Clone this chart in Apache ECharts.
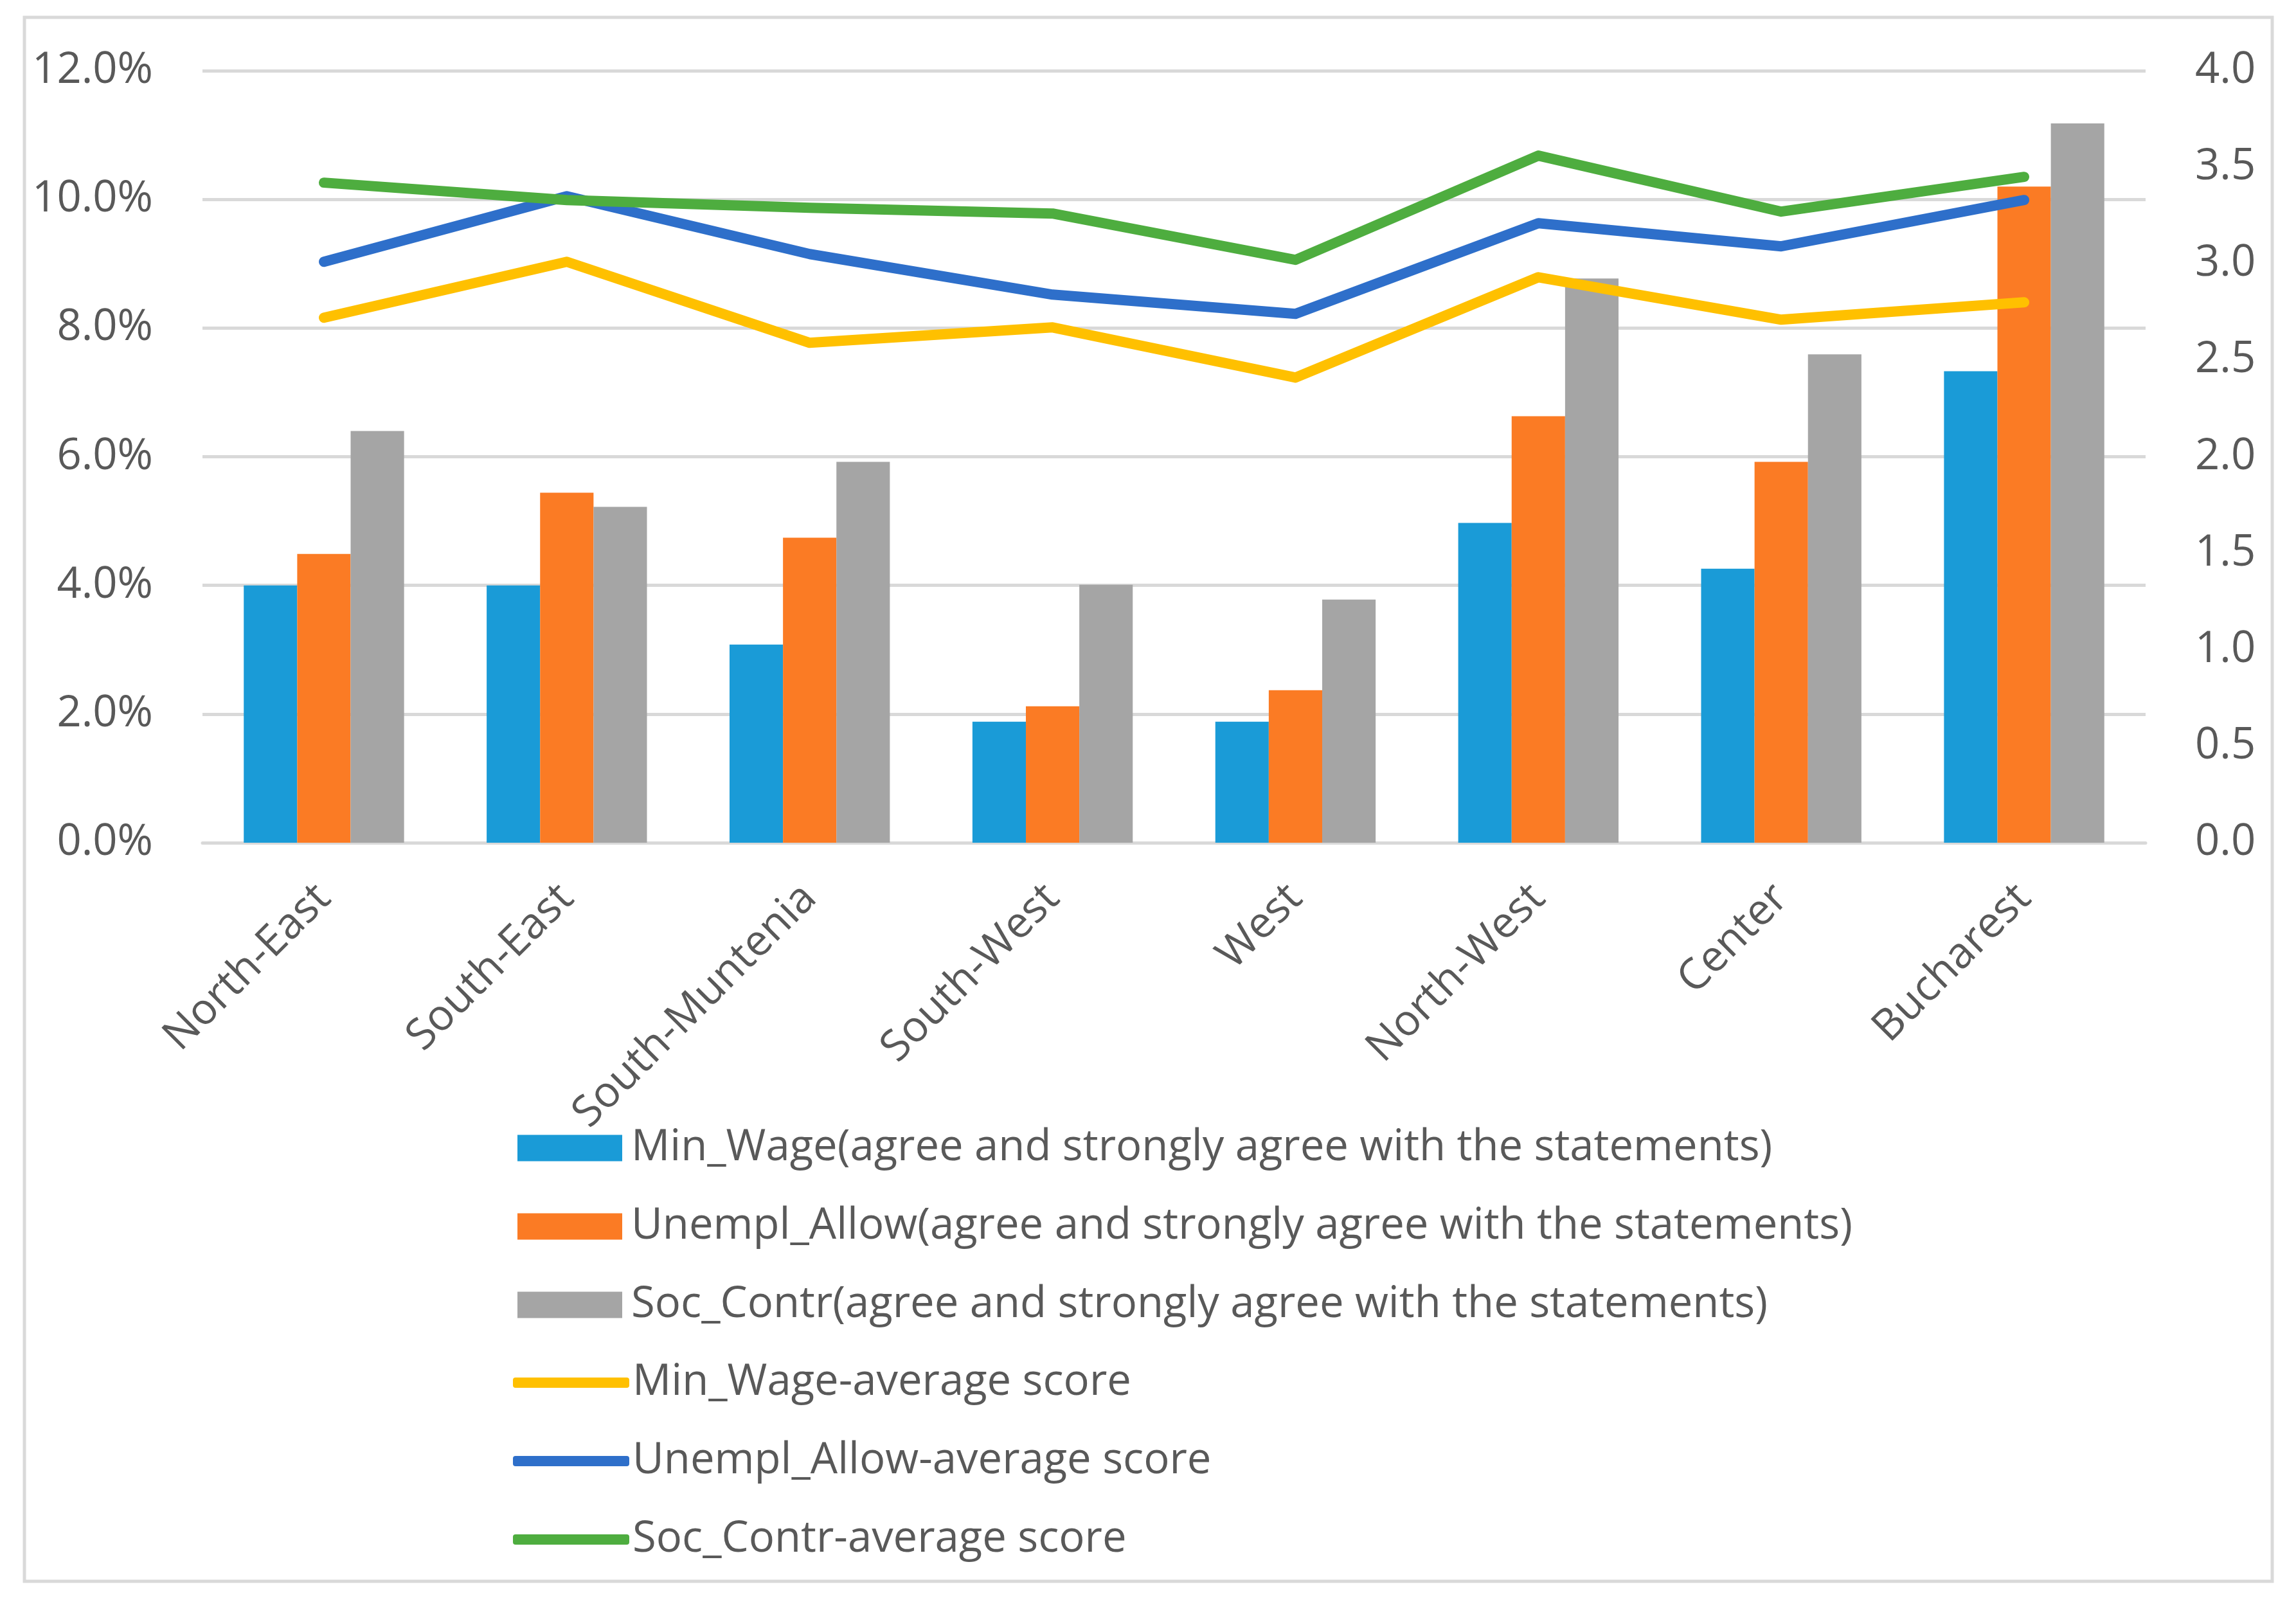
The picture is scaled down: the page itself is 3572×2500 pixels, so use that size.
<!DOCTYPE html>
<html>
<head>
<meta charset="utf-8">
<script src="https://cdn.jsdelivr.net/npm/echarts@6/dist/echarts.min.js"></script>
<style>html,body{margin:0;padding:0;background:#fff;}#c{width:3572px;height:2500px;}</style>
</head>
<body>
<div id="c"></div>
<script>
const categories = ['North-East','South-East','South-Muntenia','South-West','West','North-West','Center','Bucharest'];
const minWagePct = [4.0, 4.0, 3.08, 1.88, 1.88, 4.97, 4.26, 7.33];
const unemplAllowPct = [4.49, 5.44, 4.74, 2.12, 2.37, 6.63, 5.92, 10.2];
const socContrPct = [6.40, 5.22, 5.92, 4.01, 3.78, 8.77, 7.59, 11.18];
const minWageScore = [2.72, 3.01, 2.59, 2.67, 2.41, 2.93, 2.71, 2.80];
const unemplAllowScore = [3.01, 3.35, 3.05, 2.84, 2.74, 3.21, 3.09, 3.33];
const socContrScore = [3.42, 3.33, 3.29, 3.26, 3.02, 3.56, 3.27, 3.45];
const leftTicks = { min: 0, max: 12, interval: 2 };
const rightTicks = { min: 0, max: 4, interval: 0.5 };
const names = [
  'Min_Wage(agree and strongly agree with the statements)',
  'Unempl_Allow(agree and strongly agree with the statements)',
  'Soc_Contr(agree and strongly agree with the statements)',
  'Min_Wage-average score',
  'Unempl_Allow-average score',
  'Soc_Contr-average score'
];
const colors = ['#1A9BD7','#FB7B24','#A5A5A5','#FFC000','#2E6FCA','#4EAD3F'];
const font = 'Open Sans';
const txt = '#595959';
const chart = echarts.init(document.getElementById('c'));
const lineSeries = (name, data, color) => ({
  name, type: 'line', yAxisIndex: 1, data, symbol: 'none', smooth: false,
  lineStyle: { color, width: 16, cap: 'round', join: 'round' }, itemStyle: { color }, z: 5
});
const barSeries = (name, data, color) => ({
  name, type: 'bar', yAxisIndex: 0, data, barGap: '0%', barCategoryGap: '34%',
  itemStyle: { color }
});
chart.setOption({
  animation: false,
  backgroundColor: '#fff',
  textStyle: { fontFamily: font },
  graphic: [{
    type: 'rect', shape: { x: 38, y: 27, width: 3497, height: 2433 },
    style: { fill: 'none', stroke: '#D9D9D9', lineWidth: 5 }, silent: true, z: -10
  }],
  grid: { left: 315, right: 234, top: 110, bottom: 1189, containLabel: false },
  legend: [{
    orient: 'vertical', left: 800, top: 1746, itemWidth: 163, itemHeight: 41, itemGap: 52,
    icon: 'rect', data: names.slice(0, 3),
    textStyle: { fontFamily: font, fontSize: 67, color: txt, lineHeight: 70, padding: [0, 0, 0, 9] }
  }, {
    orient: 'vertical', left: 793, top: 2111, itemWidth: 181, itemHeight: 16, itemGap: 52,
    icon: 'roundRect', data: names.slice(3),
    textStyle: { fontFamily: font, fontSize: 67, color: txt, lineHeight: 70, padding: [0, 0, 0, 0] }
  }],
  xAxis: {
    type: 'category', data: categories, boundaryGap: true,
    axisLine: { show: true, lineStyle: { color: '#D9D9D9', width: 5 } },
    axisTick: { show: false },
    axisLabel: { rotate: 45, margin: 76, fontSize: 67, color: txt, fontFamily: font, interval: 0 }
  },
  yAxis: [{
    type: 'value', min: leftTicks.min, max: leftTicks.max, interval: leftTicks.interval,
    axisLine: { show: false }, axisTick: { show: false },
    splitLine: { lineStyle: { color: '#D9D9D9', width: 5 } },
    axisLabel: { margin: 77, fontSize: 67, color: txt, fontFamily: font, formatter: v => v.toFixed(1) + '%' }
  }, {
    type: 'value', min: rightTicks.min, max: rightTicks.max, interval: rightTicks.interval, position: 'right',
    axisLine: { show: false }, axisTick: { show: false }, splitLine: { show: false },
    axisLabel: { margin: 77, fontSize: 67, color: txt, fontFamily: font, formatter: v => v.toFixed(1) }
  }],
  series: [
    barSeries(names[0], minWagePct, colors[0]),
    barSeries(names[1], unemplAllowPct, colors[1]),
    barSeries(names[2], socContrPct, colors[2]),
    lineSeries(names[3], minWageScore, colors[3]),
    lineSeries(names[4], unemplAllowScore, colors[4]),
    lineSeries(names[5], socContrScore, colors[5])
  ]
});
</script>
</body>
</html>
